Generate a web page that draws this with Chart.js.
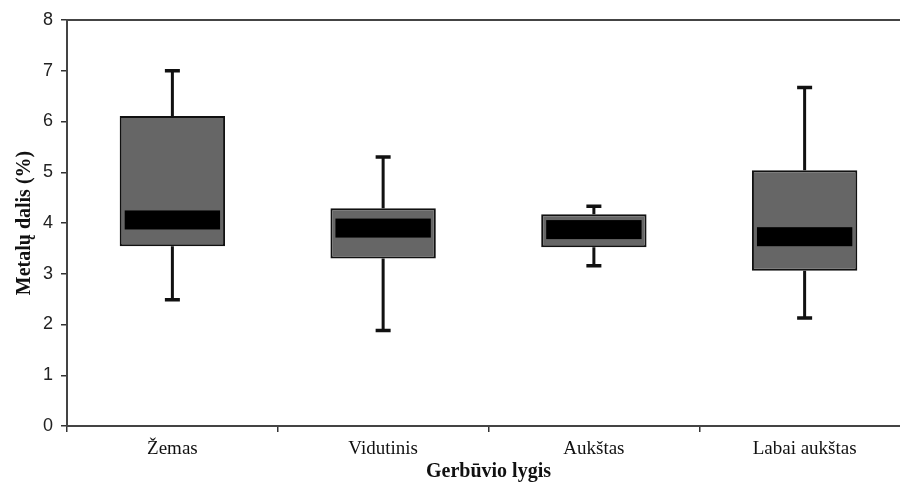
<!DOCTYPE html>
<html>
<head>
<meta charset="utf-8">
<script src="https://cdn.jsdelivr.net/npm/chart.js@4.4.1/dist/chart.umd.min.js"></script>
<style>
  html, body { margin: 0; background: #fff; overflow: hidden; }
  /* the original plot runs a little past the right edge of the picture */
  #wrap { width: 910px; height: 490px; }
</style>
</head>
<body>
<div id="wrap"><canvas id="boxChart"></canvas></div>
<script>
//data
const categories = ['Žemas', 'Vidutinis', 'Aukštas', 'Labai aukštas'];
const whiskerLow = [2.49, 1.88, 3.16, 2.13];
const quartile1 = [3.54, 3.30, 3.52, 3.06];
const medians = [4.06, 3.90, 3.87, 3.73];
const quartile3 = [6.11, 4.29, 4.17, 5.04];
const whiskerHigh = [7.00, 5.30, 4.33, 6.67];
const yTicks = [0, 1, 2, 3, 4, 5, 6, 7, 8];

const serif = "'Liberation Serif', 'Times New Roman', serif";
const sans = "'Liberation Sans', Arial, sans-serif";

// whiskers under the boxes, median bands on top
const boxPlotPlugin = {
    id: 'boxPlot',
    beforeDatasetsDraw(chart) {
        const ctx = chart.ctx;
        const y = chart.scales.y;
        const meta = chart.getDatasetMeta(0);
        ctx.save();
        ctx.strokeStyle = '#111';
        meta.data.forEach((bar, i) => {
            const x = bar.x;
            const yHi = y.getPixelForValue(whiskerHigh[i]);
            const yLo = y.getPixelForValue(whiskerLow[i]);
            const yQ3 = y.getPixelForValue(quartile3[i]);
            const yQ1 = y.getPixelForValue(quartile1[i]);
            ctx.lineWidth = 3;
            ctx.beginPath();
            ctx.moveTo(x, yHi); ctx.lineTo(x, yQ3);
            ctx.moveTo(x, yLo); ctx.lineTo(x, yQ1);
            ctx.stroke();
            ctx.lineWidth = 3.5;
            ctx.beginPath();
            ctx.moveTo(x - 7.5, yHi); ctx.lineTo(x + 7.5, yHi);
            ctx.moveTo(x - 7.5, yLo); ctx.lineTo(x + 7.5, yLo);
            ctx.stroke();
        });
        ctx.restore();
    },
    afterDatasetsDraw(chart) {
        const ctx = chart.ctx;
        const y = chart.scales.y;
        const meta = chart.getDatasetMeta(0);
        ctx.save();
        ctx.fillStyle = '#000';
        meta.data.forEach((bar, i) => {
            const ym = y.getPixelForValue(medians[i]);
            const half = bar.width / 2 - 5;
            ctx.fillRect(bar.x - half, ym - 9.5, half * 2, 19);
        });
        ctx.restore();
    }
};

const ctx = document.getElementById('boxChart').getContext('2d');
const chart = new Chart(ctx, {
    type: 'bar',
    data: {
        labels: categories,
        datasets: [{
            label: 'Metalų dalis',
            data: categories.map((_, i) => [quartile1[i], quartile3[i]]),
            backgroundColor: '#666666',
            borderColor: '#111',
            borderWidth: 2,
            borderSkipped: false,
            barPercentage: 0.5,
            categoryPercentage: 1
        }]
    },
    options: {
        responsive: true, maintainAspectRatio: false,
        animation: false,
        layout: { padding: { top: 12, right: 0, left: 13, bottom: 7 } },
        plugins: {
            legend: { display: false },
            tooltip: { enabled: false }
        },
        scales: {
            x: {
                type: 'category',
                offset: true,
                grid: { offset: true, drawOnChartArea: false, tickLength: 6, color: '#333', lineWidth: 1.5 },
                border: { color: '#444', width: 2 },
                ticks: { color: '#111', padding: 6, font: { family: serif, size: 19 } },
                title: { display: true, text: 'Gerbūvio lygis', color: '#111', padding: { top: -7, bottom: 0 },
                         font: { family: serif, size: 20, weight: 'bold', lineHeight: 1.16 } }
            },
            x2: {
                type: 'category',
                position: 'top',
                labels: categories,
                offset: true,
                grid: { display: false },
                border: { color: '#444', width: 2 },
                ticks: { display: false }
            },
            y: {
                min: 0, max: 8,
                afterBuildTicks: axis => { axis.ticks = yTicks.map(v => ({ value: v })); },
                grid: { drawOnChartArea: false, tickLength: 6, color: '#333', lineWidth: 1.5 },
                border: { color: '#444', width: 2 },
                ticks: { color: '#222', padding: 8, font: { family: sans, size: 18 } },
                title: { display: true, text: 'Metalų dalis (%)', color: '#111', padding: { top: 0, bottom: -2 },
                         font: { family: serif, size: 20, weight: 'bold' } }
            }
        }
    },
    plugins: [boxPlotPlugin]
});
</script>
</body>
</html>
